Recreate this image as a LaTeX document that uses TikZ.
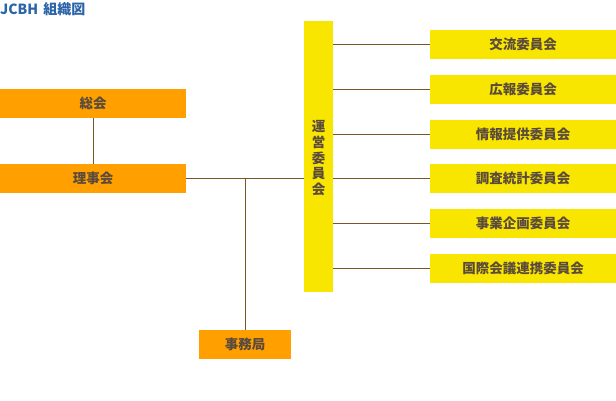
\documentclass[tikz,border=0pt]{standalone}
\usepackage{fontspec}
\setmainfont{Noto Sans CJK JP}
\usetikzlibrary{positioning}
\definecolor{laranja}{HTML}{FFA000}
\definecolor{amarelo}{HTML}{F9E600}
\definecolor{linha}{HTML}{7B5428}
\definecolor{textoBloco}{HTML}{5A4A3C}
\definecolor{corTitulo}{HTML}{2C64A8}
\tikzset{
    bloco/.style={
        rectangle,
        inner sep=0pt,
        minimum height=29pt,
        text=textoBloco,
        font=\bfseries\fontsize{13.5}{14}\selectfont
    },
    diretoria/.style={bloco, fill=laranja, minimum width=186pt},
    comissao/.style={bloco, fill=amarelo, minimum width=186pt},
    ligacao/.style={draw=linha, line width=1pt}
}

\begin{document}
\begin{tikzpicture}[x=1pt, y=-1pt, node distance=15.4pt]
        \useasboundingbox (0,0) rectangle (616,400);
        \node[anchor=base west, inner sep=0pt, text=corTitulo,
            font=\bfseries\fontsize{14}{15}\selectfont] (titulo) at (0,14)
            {JCBH\hspace{5pt}組織図};
        \node[diretoria] (assembleia) at (93,103.5) {総会};
        \node[diretoria] (conselho) at (93,178.5) {理事会};
        \node[bloco, fill=laranja, minimum width=92pt] (secretaria)
            at (245,344.5) {事務局};
        \node[bloco, fill=amarelo, minimum width=29pt, minimum height=271pt,
            align=center, text depth=0pt] (gestao) at (318.5,156.5)
            {\raisebox{-2pt}{\shortstack{運\\営\\委\\員\\会}}};
        \node[comissao] (c1) at (523,44.4) {交流委員会};
        \node[comissao, below=of c1] (c2) {広報委員会};
        \node[comissao, below=of c2] (c3) {情報提供委員会};
        \node[comissao, below=of c3] (c4) {調査統計委員会};
        \node[comissao, below=of c4] (c5) {事業企画委員会};
        \node[comissao, below=of c5] (c6) {国際会議連携委員会};
        \coordinate (ramo) at (245,178.5);
        \draw[ligacao] (assembleia) -- (conselho);
        \draw[ligacao] (conselho.east) -- (conselho.east -| gestao.west);
        \draw[ligacao] (ramo) -- (secretaria);
        \foreach \c in {c1,c2,c3,c4,c5,c6}
            \draw[ligacao] (\c.west -| gestao.east) -- (\c.west);
    \end{tikzpicture}
\end{document}
